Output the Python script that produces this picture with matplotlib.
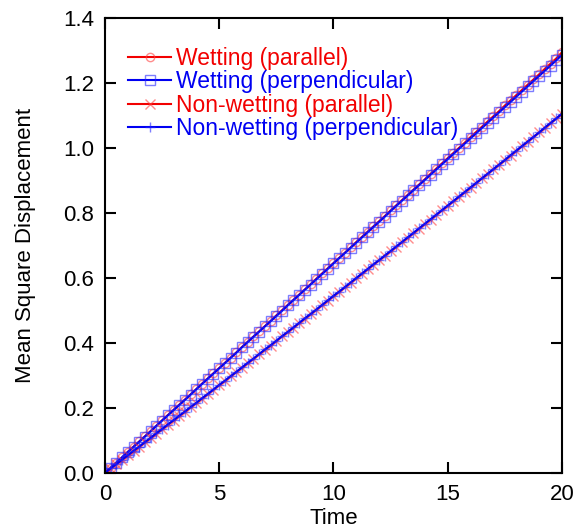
import numpy as np
import matplotlib.pyplot as plt

plt.rcParams['font.family'] = ['Liberation Sans', 'DejaVu Sans']

# Time samples (every 0.25 up to 20)
time = [0.00, 0.25, 0.50, 0.75, 1.00, 1.25, 1.50, 1.75, 2.00, 2.25,
        2.50, 2.75, 3.00, 3.25, 3.50, 3.75, 4.00, 4.25, 4.50, 4.75,
        5.00, 5.25, 5.50, 5.75, 6.00, 6.25, 6.50, 6.75, 7.00, 7.25,
        7.50, 7.75, 8.00, 8.25, 8.50, 8.75, 9.00, 9.25, 9.50, 9.75,
        10.00, 10.25, 10.50, 10.75, 11.00, 11.25, 11.50, 11.75, 12.00, 12.25,
        12.50, 12.75, 13.00, 13.25, 13.50, 13.75, 14.00, 14.25, 14.50, 14.75,
        15.00, 15.25, 15.50, 15.75, 16.00, 16.25, 16.50, 16.75, 17.00, 17.25,
        17.50, 17.75, 18.00, 18.25, 18.50, 18.75, 19.00, 19.25, 19.50, 19.75,
        20.00]

wet_par = [0.000, 0.016, 0.032, 0.048, 0.065, 0.081, 0.097, 0.113, 0.129, 0.145,
           0.162, 0.178, 0.194, 0.210, 0.226, 0.242, 0.258, 0.275, 0.291, 0.307,
           0.323, 0.339, 0.355, 0.371, 0.388, 0.404, 0.420, 0.436, 0.452, 0.468,
           0.485, 0.501, 0.517, 0.533, 0.549, 0.565, 0.581, 0.598, 0.614, 0.630,
           0.646, 0.662, 0.678, 0.694, 0.711, 0.727, 0.743, 0.759, 0.775, 0.791,
           0.808, 0.824, 0.840, 0.856, 0.872, 0.888, 0.904, 0.921, 0.937, 0.953,
           0.969, 0.985, 1.001, 1.017, 1.034, 1.050, 1.066, 1.082, 1.098, 1.114,
           1.131, 1.147, 1.163, 1.179, 1.195, 1.211, 1.227, 1.244, 1.260, 1.276,
           1.295]

wet_perp = [0.000, 0.016, 0.032, 0.048, 0.064, 0.080, 0.096, 0.112, 0.128, 0.145,
            0.161, 0.177, 0.193, 0.209, 0.225, 0.241, 0.258, 0.274, 0.290, 0.306,
            0.322, 0.338, 0.354, 0.370, 0.387, 0.403, 0.419, 0.435, 0.451, 0.467,
            0.483, 0.499, 0.516, 0.532, 0.548, 0.564, 0.580, 0.596, 0.612, 0.628,
            0.645, 0.661, 0.677, 0.693, 0.709, 0.725, 0.741, 0.757, 0.773, 0.789,
            0.806, 0.822, 0.838, 0.854, 0.870, 0.886, 0.902, 0.918, 0.934, 0.950,
            0.966, 0.982, 0.998, 1.014, 1.030, 1.046, 1.062, 1.078, 1.094, 1.110,
            1.126, 1.142, 1.158, 1.174, 1.190, 1.206, 1.222, 1.238, 1.254, 1.270,
            1.287]

nonwet_par = [0.000, 0.013, 0.027, 0.040, 0.054, 0.067, 0.080, 0.094, 0.107, 0.121,
              0.134, 0.148, 0.161, 0.175, 0.188, 0.202, 0.215, 0.229, 0.243, 0.256,
              0.270, 0.283, 0.297, 0.311, 0.324, 0.338, 0.351, 0.365, 0.379, 0.392,
              0.406, 0.420, 0.434, 0.447, 0.461, 0.475, 0.489, 0.502, 0.516, 0.530,
              0.544, 0.558, 0.571, 0.585, 0.599, 0.613, 0.627, 0.641, 0.655, 0.669,
              0.682, 0.696, 0.710, 0.724, 0.738, 0.752, 0.766, 0.780, 0.794, 0.808,
              0.822, 0.836, 0.850, 0.864, 0.878, 0.892, 0.907, 0.921, 0.935, 0.949,
              0.963, 0.977, 0.991, 1.006, 1.020, 1.034, 1.048, 1.062, 1.077, 1.091,
              1.105]

nonwet_perp = [0.000, 0.014, 0.027, 0.041, 0.054, 0.068, 0.081, 0.095, 0.108, 0.122,
               0.135, 0.149, 0.162, 0.176, 0.189, 0.203, 0.216, 0.230, 0.243, 0.257,
               0.271, 0.284, 0.298, 0.311, 0.325, 0.339, 0.352, 0.366, 0.380, 0.393,
               0.407, 0.421, 0.434, 0.448, 0.462, 0.476, 0.489, 0.503, 0.517, 0.531,
               0.545, 0.558, 0.572, 0.586, 0.600, 0.614, 0.628, 0.642, 0.655, 0.669,
               0.683, 0.697, 0.711, 0.725, 0.739, 0.753, 0.767, 0.781, 0.795, 0.809,
               0.823, 0.837, 0.851, 0.865, 0.879, 0.893, 0.907, 0.921, 0.935, 0.949,
               0.963, 0.978, 0.992, 1.006, 1.020, 1.034, 1.048, 1.063, 1.077, 1.091,
               1.106]

red = (0.95, 0.0, 0.0)
blue = (0.0, 0.0, 0.95)
red_soft = (1.0, 0.25, 0.25, 0.6)
blue_soft = (0.15, 0.15, 1.0, 0.6)

fig = plt.figure(figsize=(5.83, 5.32), dpi=100)
ax = fig.add_axes([0.180, 0.111, 0.784, 0.855])

ax.plot(time, wet_par, color=red, lw=1.5, marker='o', ms=6, mfc='none',
        mec=red_soft, mew=1.0, label='Wetting (parallel)')
ax.plot(time, wet_perp, color=blue, lw=1.5, marker='s', ms=7, mfc='none',
        mec=blue_soft, mew=1.0, label='Wetting (perpendicular)')
ax.plot(time, nonwet_par, color=red, lw=1.5, marker='x', ms=7, mfc='none',
        mec=red_soft, mew=1.0, label='Non-wetting (parallel)')
ax.plot(time, nonwet_perp, color=blue, lw=1.5, marker='+', ms=7, mfc='none',
        mec=blue_soft, mew=1.0, label='Non-wetting (perpendicular)')

ax.set_xlim(0, 20)
ax.set_ylim(0, 1.4)
ax.set_xticks([0, 5, 10, 15, 20])
ax.set_yticks(np.arange(0, 1.41, 0.2))
ax.set_yticklabels(['%.1f' % v for v in np.arange(0, 1.41, 0.2)])

ax.tick_params(direction='in', length=8, width=1.5, labelsize=16,
               top=True, right=True, pad=8)
for sp in ax.spines.values():
    sp.set_linewidth(1.5)

ax.set_xlabel('Time', fontsize=16, labelpad=2)
ax.set_ylabel('Mean Square Displacement', fontsize=16, labelpad=19)

leg = ax.legend(loc='upper left', frameon=False, fontsize=16.5,
                handlelength=1.9, handletextpad=0.2, labelspacing=0.02,
                borderaxespad=0.0, bbox_to_anchor=(0.03, 0.957))
for txt, line in zip(leg.get_texts(), leg.get_lines()):
    txt.set_color(line.get_color())

fig.savefig('out.png', dpi=100)
